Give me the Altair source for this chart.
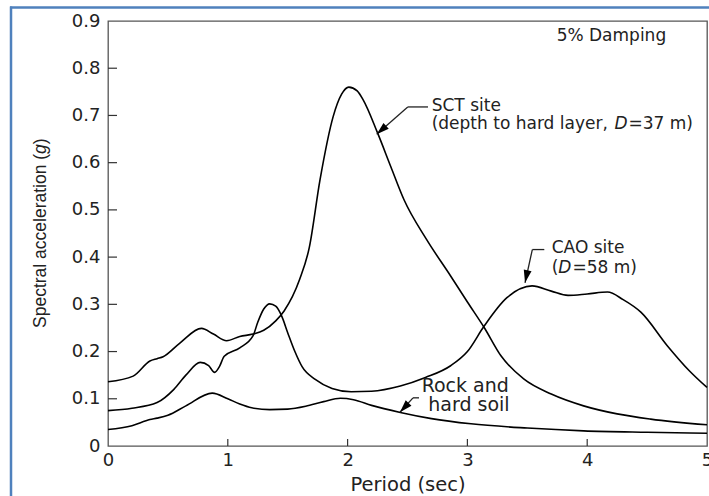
import altair as alt
import pandas as pd

# ---------------- data ----------------
rock_period = [0, 0.2, 0.35, 0.41, 0.5, 0.65, 0.87, 1.0, 1.1, 1.2, 1.35, 1.5, 1.65, 1.8, 1.94,
               2.05, 2.2, 2.44, 2.7, 3.03, 3.5, 3.97, 4.5, 5.0]
rock_sa = [0.035, 0.043, 0.056, 0.059, 0.065, 0.085, 0.112, 0.100, 0.089, 0.081, 0.077, 0.078,
           0.084, 0.094, 0.101, 0.098, 0.086, 0.071, 0.058, 0.047, 0.038, 0.032, 0.029, 0.027]

cao_period = [0, 0.2, 0.41, 0.55, 0.65, 0.77, 0.84, 0.89, 0.93, 0.97, 1.1, 1.21, 1.25, 1.3, 1.35,
              1.4, 1.45, 1.5, 1.56, 1.62, 1.73, 1.87, 2.03, 2.2, 2.44, 2.65, 2.86, 3.0, 3.14,
              3.33, 3.54, 3.7, 3.84, 4.0, 4.17, 4.3, 4.45, 4.67, 4.85, 5.0]
cao_sa = [0.075, 0.080, 0.092, 0.120, 0.150, 0.177, 0.170, 0.156, 0.168, 0.190, 0.208, 0.233,
          0.262, 0.290, 0.301, 0.296, 0.275, 0.240, 0.200, 0.168, 0.141, 0.122, 0.115, 0.116,
          0.127, 0.145, 0.170, 0.200, 0.254, 0.314, 0.339, 0.328, 0.319, 0.322, 0.326, 0.310,
          0.283, 0.212, 0.160, 0.124]

sct_period = [0, 0.21, 0.35, 0.41, 0.46, 0.6, 0.78, 0.88, 0.99, 1.1, 1.21, 1.3, 1.4, 1.47, 1.6,
              1.68, 1.77, 1.88, 1.95, 2.01, 2.08, 2.13, 2.25, 2.36, 2.47, 2.66, 2.86, 3.0, 3.14,
              3.28, 3.47, 3.7, 3.97, 4.25, 4.53, 5.0]
sct_sa = [0.136, 0.148, 0.180, 0.185, 0.189, 0.218, 0.249, 0.237, 0.223, 0.232, 0.237, 0.245,
          0.265, 0.286, 0.353, 0.420, 0.564, 0.698, 0.745, 0.760, 0.752, 0.733, 0.663, 0.592,
          0.522, 0.437, 0.360, 0.305, 0.251, 0.191, 0.142, 0.110, 0.085, 0.068, 0.057, 0.045]

x_ticks = [0, 1, 2, 3, 4, 5]
y_ticks = [0, 0.1, 0.2, 0.3, 0.4, 0.5, 0.6, 0.7, 0.8, 0.9]
x_inner_ticks = [1, 2, 3, 4]
y_inner_ticks = [0.1, 0.2, 0.3, 0.4, 0.5, 0.6, 0.7, 0.8]

# annotation leader lines (period, g)
seg_x = [2.671, 2.502, 3.642, 3.542, 2.596, 2.546]
seg_y = [0.718, 0.718, 0.416, 0.416, 0.102, 0.102]
seg_x2 = [2.502, 2.243, 3.542, 3.481, 2.546, 2.437]
seg_y2 = [0.718, 0.660, 0.416, 0.3456, 0.102, 0.0716]
head_x = [2.243, 3.481, 2.437]
head_y = [0.660, 0.3456, 0.0716]
head_angle = [228, 192, 223]

# annotation texts
txt_normal = ["5% Damping", "SCT site", "(depth to hard layer, ", "=37 m)", "CAO site", "(", "=58 m)"]
txt_normal_x = [3.745, 2.702, 2.702, 4.345, 3.704, 3.704, 3.877]
txt_normal_y = [0.869, 0.721, 0.681, 0.681, 0.420, 0.378, 0.378]
txt_italic = ["D", "D"]
txt_italic_x = [4.228, 3.758]
txt_italic_y = [0.681, 0.378]
txt_rock = ["Rock and", "hard soil"]
txt_rock_x = [2.618, 2.673]
txt_rock_y = [0.128, 0.086]

# ---------------- tables ----------------
rows = []
for name, px, sa in [("Rock and hard soil", rock_period, rock_sa),
                     ("CAO site", cao_period, cao_sa),
                     ("SCT site", sct_period, sct_sa)]:
    for p, s in zip(px, sa):
        rows.append({"curve": name, "period": p, "sa": s})
curves = pd.DataFrame(rows)

FONT = "DejaVu Sans"
INK = "#222222"
xs = alt.Scale(domain=[0, 5], nice=False, zero=False)
ys = alt.Scale(domain=[0, 0.9], nice=False)
x_axis = alt.Axis(values=x_ticks, title="Period (sec)", labelFlush=False, labelOverlap=False,
                  labelPadding=5, titlePadding=6, titleFontSize=19.5, titleFont=FONT,
                  titleFontWeight="normal", titleColor=INK)
y_axis = alt.Axis(values=y_ticks, title=None, labelFlush=False, labelOverlap=False,
                  labelPadding=8, labelBaseline="middle",
                  labelExpr="datum.value == 0 ? '0' : format(datum.value, '.1f')")


def X(field):
    return alt.X(field, scale=xs, axis=x_axis, title="Period (sec)")


def Y(field):
    return alt.Y(field, scale=ys, axis=y_axis, title=None)


lines = alt.Chart(curves).mark_line(color="black", strokeWidth=1.6, interpolate="monotone").encode(
    x=X("period:Q"), y=Y("sa:Q"), detail="curve:N")

ytick = alt.Chart(pd.DataFrame({"v": y_inner_ticks})).mark_rule(color="#333", strokeWidth=1.2).encode(
    y=Y("v:Q"), x=alt.value(0), x2=alt.value(9))
xtick = alt.Chart(pd.DataFrame({"v": x_inner_ticks})).mark_rule(color="#333", strokeWidth=1.2).encode(
    x=X("v:Q"), y=alt.value(425), y2=alt.value(418))

segs = alt.Chart(pd.DataFrame({"x": seg_x, "y": seg_y, "x2": seg_x2, "y2": seg_y2})).mark_rule(
    color="#222", strokeWidth=1.3).encode(x=X("x:Q"), y=Y("y:Q"), x2="x2:Q", y2="y2:Q")

heads = alt.Chart(pd.DataFrame({"x": head_x, "y": head_y, "a": head_angle})).mark_point(
    shape="M0,0L0.5,1.6L-0.5,1.6Z", filled=True, color="black", opacity=1, size=250, strokeWidth=0).encode(
    x=X("x:Q"), y=Y("y:Q"), angle=alt.Angle("a:Q", scale=None))

t_norm = alt.Chart(pd.DataFrame({"x": txt_normal_x, "y": txt_normal_y, "t": txt_normal})).mark_text(
    align="left", baseline="middle", font=FONT, fontSize=17, color=INK).encode(
    x=X("x:Q"), y=Y("y:Q"), text="t:N")
t_ital = alt.Chart(pd.DataFrame({"x": txt_italic_x, "y": txt_italic_y, "t": txt_italic})).mark_text(
    align="left", baseline="middle", font=FONT, fontSize=17, fontStyle="italic", color=INK).encode(
    x=X("x:Q"), y=Y("y:Q"), text="t:N")
t_rock = alt.Chart(pd.DataFrame({"x": txt_rock_x, "y": txt_rock_y, "t": txt_rock})).mark_text(
    align="left", baseline="middle", font=FONT, fontSize=19, color=INK).encode(
    x=X("x:Q"), y=Y("y:Q"), text="t:N")

# y axis title with italic g (pixel placement relative to plot area)
one = pd.DataFrame({"a": [0]})
ytitle_a = alt.Chart(one).mark_text(align="left", baseline="middle", angle=270, font="Liberation Sans",
                                    fontSize=17.5, color=INK, text="Spectral acceleration (").encode(
    x=alt.value(-67), y=alt.value(307))
ytitle_g = alt.Chart(one).mark_text(align="left", baseline="middle", angle=270, font="Liberation Sans",
                                    fontSize=17.5, fontStyle="italic", color=INK, text="g").encode(
    x=alt.value(-67), y=alt.value(133))
ytitle_c = alt.Chart(one).mark_text(align="left", baseline="middle", angle=270, font="Liberation Sans",
                                    fontSize=17.5, color=INK, text=")").encode(
    x=alt.value(-67), y=alt.value(123.2))

# page border (blue) from the source document
border_left = alt.Chart(one).mark_rule(color="#4F81BD", strokeWidth=2.5).encode(
    x=alt.value(-97), y=alt.value(-14.5), y2=alt.value(480))
border_top = alt.Chart(one).mark_rule(color="#4F81BD", strokeWidth=2.5).encode(
    x=alt.value(-98), x2=alt.value(610), y=alt.value(-13.5))

chart = alt.layer(
    lines, ytick, xtick, segs, heads, t_norm, t_ital, t_rock,
    ytitle_a, ytitle_g, ytitle_c, border_left, border_top,
).properties(
    width=599, height=425,
    autosize=alt.AutoSizeParams(type="none"),
    padding={"left": 108, "top": 21, "right": 2, "bottom": 50},
    background="white",
).configure_view(
    stroke="#555555", strokeWidth=1.3,
).configure_axis(
    domain=False, ticks=False, grid=False,
    labelFont=FONT, labelFontSize=18, labelColor=INK,
)

chart.save("out.html", embed_options={"renderer": "svg", "actions": False})
